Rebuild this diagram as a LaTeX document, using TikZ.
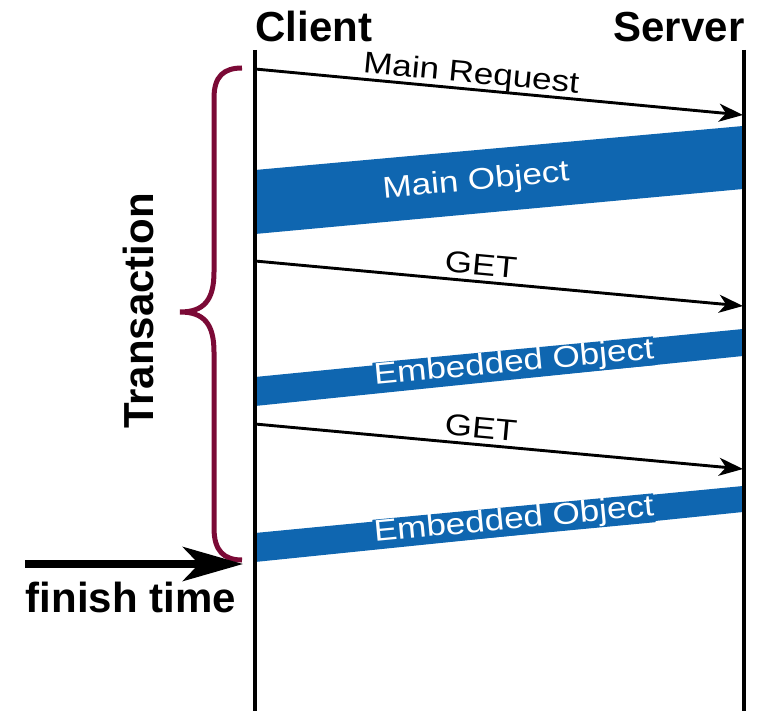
\documentclass[tikz,border=0pt]{standalone}
\usepackage{fontspec}
\setmainfont{Liberation Sans}
\newfontfamily\widefont[FakeStretch=1.17]{Liberation Sans}
\usetikzlibrary{arrows.meta}
\definecolor{bandblue}{HTML}{0F66B0}
\definecolor{bracered}{HTML}{7B0A36}
\tikzset{
  lifeline/.style={line width=3.4pt},
  msg/.style={line width=2.9pt, -{Stealth[length=24pt,width=18pt,inset=7pt]}},
  msglabel/.style={font=\widefont\fontsize{30}{34}\selectfont, inner sep=0pt, text depth=0pt, sloped, above=5pt},
  band/.style={fill=bandblue},
  bandtext/.style={font=\widefont\fontsize{30}{34}\selectfont, text=white, inner sep=0.5pt, rotate=5.4},
  bigbold/.style={font=\bfseries\fontsize{42}{50}\selectfont, inner sep=0pt, anchor=base},
}
\begin{document}
\begin{tikzpicture}[x=1pt,y=-1pt]
\useasboundingbox (0,0) rectangle (757,711);
% headers
\node[bigbold] (client) at (314,42) {Client};
\node[bigbold] (server) at (679,42) {Server};
% bands
\fill[band] (255,170) -- (743,126) -- (743,189) -- (255,234) -- cycle;
\node[bandtext] (mainobj) at (476,182) {Main Object};
\fill[band] (255,377) -- (743,329) -- (743,356) -- (255,406) -- cycle;
\node[bandtext, fill=bandblue] (emb1) at (514,364) {Embedded Object};
\fill[band] (255,533) -- (743,486) -- (743,512) -- (255,562) -- cycle;
\node[bandtext, fill=bandblue] (emb2) at (514,521) {Embedded Object};
% lifelines
\coordinate (ctop) at (255,50);
\coordinate (cbot) at (255,711);
\coordinate (stop) at (744,50);
\coordinate (sbot) at (744,711);
\draw[lifeline] (ctop) -- (cbot);
\draw[lifeline] (stop) -- (sbot);
% messages
\coordinate (r1a) at (255,69);
\coordinate (r1b) at (743,115);
\draw[msg] (r1a) -- node[msglabel, pos=0.44] (mreq) {Main Request} (r1b);
\coordinate (r2a) at (255,261);
\coordinate (r2b) at (743,306);
\draw[msg] (r2a) -- node[msglabel, pos=0.46] (get1) {GET} (r2b);
\coordinate (r3a) at (255,424);
\coordinate (r3b) at (743,469);
\draw[msg] (r3a) -- node[msglabel, pos=0.46] (get2) {GET} (r3b);
% brace
\draw[bracered, line width=5pt]
  (242,68) .. controls (224,68) and (214,76) .. (214,98)
  -- (214,272) .. controls (214,300) and (204,312) .. (180,312)
  .. controls (204,312) and (214,324) .. (214,352)
  -- (214,528) .. controls (214,551) and (224,560) .. (242,560);
\node[bigbold, rotate=90] (trans) at (153,311) {Transaction};
% finish time
\coordinate (ft0) at (25,564);
\coordinate (ft1) at (243,564);
\draw[line width=8pt, -{Stealth[length=60pt,width=34pt,inset=16pt]}] (ft0) -- (ft1);
\node[bigbold] (finish) at (131,612) {finish time};
\end{tikzpicture}
\end{document}
